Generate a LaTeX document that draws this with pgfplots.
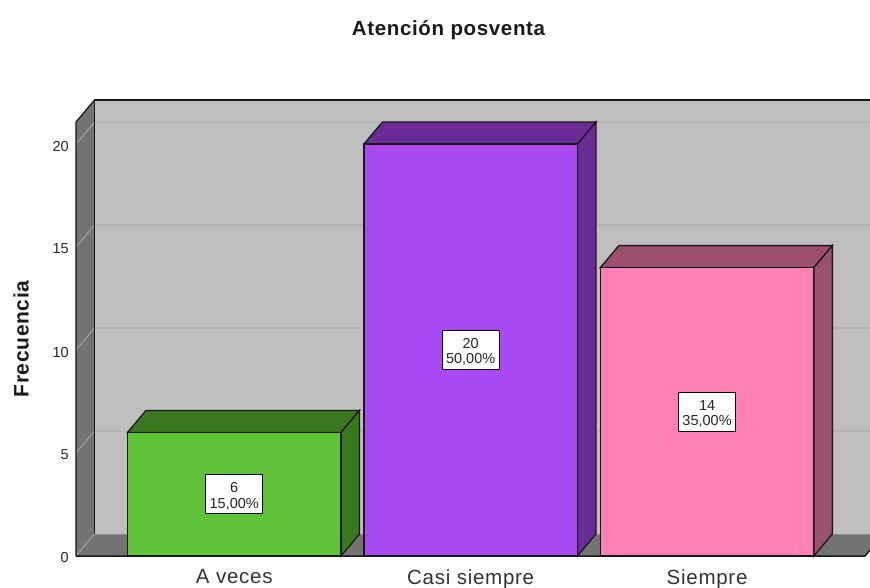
\documentclass[border=0pt]{standalone}
\usepackage{fontspec}
\setmainfont{Liberation Sans}
\newfontfamily\spacedfont[LetterSpace=3.6]{Liberation Sans}
\newfontfamily\spacedbold[LetterSpace=3.2]{Liberation Sans Bold}
\usepackage{pgfplots}
\pgfplotsset{compat=1.18}
\definecolor{wallback}{HTML}{BEBEBE}
\definecolor{wallside}{HTML}{737373}
\definecolor{gridback}{HTML}{B4B4B4}
\definecolor{gridside}{HTML}{A0A0A0}
\definecolor{greenfront}{HTML}{5EC337}
\definecolor{greenshade}{HTML}{3A7820}
\definecolor{purplefront}{HTML}{AA4AF5}
\definecolor{purpleshade}{HTML}{6A2B95}
\definecolor{pinkfront}{HTML}{FF80B4}
\definecolor{pinkshade}{HTML}{9B5070}
% white box with the count and the share, text set slightly low in the box
\newcommand{\valuebox}[2]{%
  \node[draw=black,line width=1pt,fill=white,minimum width=57pt,minimum height=39pt,inner sep=0pt] at (#1) {};
  \node[inner sep=0pt,yshift=-2pt,align=center,font=\fontsize{14.5}{15.5}\selectfont,text=black!85] at (#1) {#2};}
\begin{document}
\begin{tikzpicture}[x=1pt,y=1pt]
\useasboundingbox (0,0) rectangle (870,587);
\clip (0,0) rectangle (870,587);
\node[font=\spacedbold\fontsize{20.5}{24}\selectfont,text=black!90] at (448.5,557) {Atención posventa};
\node[font=\spacedbold\fontsize{21}{24}\selectfont,text=black!90,rotate=90] at (21,248) {Frecuencia};
\begin{axis}[
  at={(76pt,31pt)}, anchor=south west,
  scale only axis, width=789pt, height=434pt,
  xmin=-0.6694, xmax=2.668, ymin=0, ymax=21.07,
  clip=false,
  axis line style={draw=none},
  major tick length=0pt,
  tick style={draw=none},
  xtick={0,1,2}, xticklabels={A veces,Casi siempre,Siempre},
  ytick={0,5,10,15,20},
  /pgf/number format/assume math mode=true,
  xticklabel style={font=\spacedfont\fontsize{20.5}{22}\selectfont,text=black!80,inner sep=0pt,anchor=north,yshift=-13pt},
  yticklabel style={font=\fontsize{14.5}{16}\selectfont,text=black!85,inner sep=0pt,anchor=east,xshift=-7pt,yshift=-2pt},
  ybar, bar width=213.5pt, bar shift=0pt,
]
% back wall, side wall and floor
\addplot[sharp plot, draw=none, fill=wallback] coordinates {(-.5911,1.068)(2.7463,1.068)(2.7463,22.138)(-.5911,22.138)} --cycle;
\addplot[sharp plot, draw=none, fill=wallside] coordinates {(-.6694,0)(-.5911,1.068)(-.5911,22.138)(-.6694,21.07)} --cycle;
\addplot[sharp plot, draw=none, fill=wallside] coordinates {(-.6694,0)(2.668,0)(2.7463,1.068)(-.5911,1.068)} --cycle;
% grid lines running across the side wall and the back wall
\addplot[sharp plot, gridside, line width=1pt] coordinates {(-.6694,0)(-.5911,1.068)};
\addplot[sharp plot, gridside, line width=1pt] coordinates {(-.6694,5)(-.5911,6.068)};
\addplot[sharp plot, gridside, line width=1pt] coordinates {(-.6694,10)(-.5911,11.068)};
\addplot[sharp plot, gridside, line width=1pt] coordinates {(-.6694,15)(-.5911,16.068)};
\addplot[sharp plot, gridside, line width=1pt] coordinates {(-.6694,20)(-.5911,21.068)};
\addplot[sharp plot, gridback, line width=1.2pt] coordinates {(-.5911,6.068)(2.7463,6.068)};
\addplot[sharp plot, gridback, line width=1.2pt] coordinates {(-.5911,11.068)(2.7463,11.068)};
\addplot[sharp plot, gridback, line width=1.2pt] coordinates {(-.5911,16.068)(2.7463,16.068)};
\addplot[sharp plot, gridback, line width=1.2pt] coordinates {(-.5911,21.068)(2.7463,21.068)};
% frame edges
\addplot[sharp plot, black!90, line width=1.5pt] coordinates {(-.5911,1.068)(-.5911,22.138)(2.7463,22.138)};
\addplot[sharp plot, black!90, line width=1.3pt] coordinates {(-.6694,0)(-.6694,21.07)(-.5911,22.138)};
\addplot[sharp plot, black!90, line width=1.5pt] coordinates {(-.6694,0)(2.668,0)(2.7463,1.068)};
\addplot[sharp plot, black!45, line width=.8pt] coordinates {(-.5911,1.068)(2.7463,1.068)};
% A veces
\addplot[sharp plot, draw=black!90, line width=1.3pt, fill=greenshade] coordinates {(-.4516,6)(-.3733,7.068)(.5299,7.068)(.4516,6)} --cycle;
\addplot[sharp plot, draw=black!90, line width=1.3pt, fill=greenshade] coordinates {(.4516,0)(.5299,1.068)(.5299,7.068)(.4516,6)} --cycle;
\addplot[ybar, draw=black!90, line width=1.3pt, fill=greenfront] coordinates {(0,6)};
% Casi siempre
\addplot[sharp plot, draw=black!90, line width=1.3pt, fill=purpleshade] coordinates {(.5484,20)(.6267,21.068)(1.5299,21.068)(1.4516,20)} --cycle;
\addplot[sharp plot, draw=black!90, line width=1.3pt, fill=purpleshade] coordinates {(1.4516,0)(1.5299,1.068)(1.5299,21.068)(1.4516,20)} --cycle;
\addplot[ybar, draw=black!90, line width=1.3pt, fill=purplefront] coordinates {(1,20)};
% Siempre
\addplot[sharp plot, draw=black!90, line width=1.3pt, fill=pinkshade] coordinates {(1.5484,14)(1.6267,15.068)(2.5299,15.068)(2.4516,14)} --cycle;
\addplot[sharp plot, draw=black!90, line width=1.3pt, fill=pinkshade] coordinates {(2.4516,0)(2.5299,1.068)(2.5299,15.068)(2.4516,14)} --cycle;
\addplot[ybar, draw=black!90, line width=1.3pt, fill=pinkfront] coordinates {(2,14)};
% value labels centred on each bar
\valuebox{axis cs:0,3}{6\\15,00\%}
\valuebox{axis cs:1,10}{20\\50,00\%}
\valuebox{axis cs:2,7}{14\\35,00\%}
\end{axis}
\end{tikzpicture}
\end{document}
